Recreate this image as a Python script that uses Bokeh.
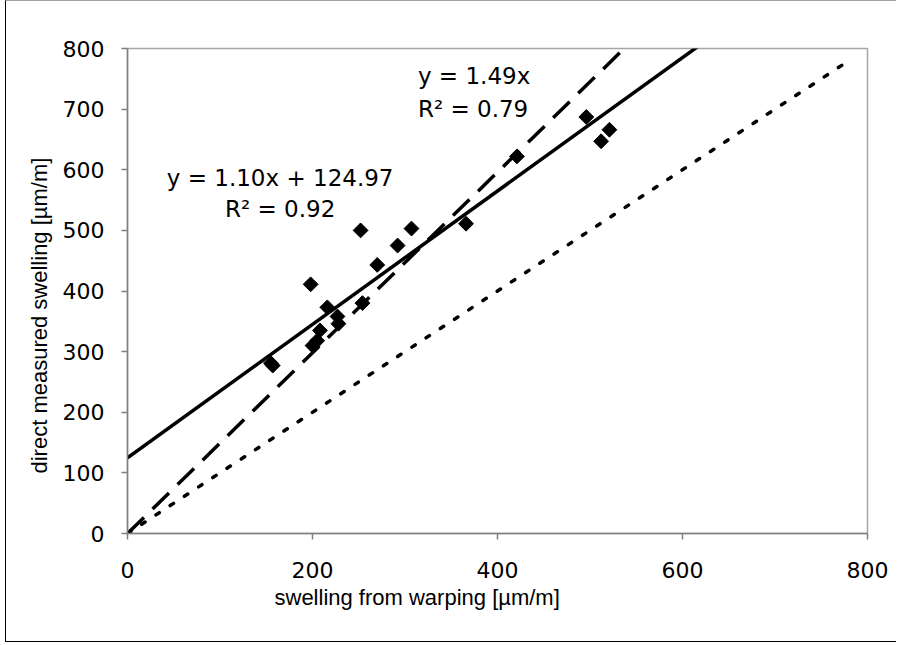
import math
from bokeh.plotting import figure
from bokeh.models import Range1d, FixedTicker, Label, Title
from bokeh.embed import file_html
from bokeh.resources import INLINE

# Measured specimens: swelling derived from warping vs. directly measured swelling
warp_swelling = [155, 157, 198, 200, 205, 208, 216, 227, 228, 252, 254, 270,
                 292, 307, 366, 421, 496, 512, 521]
direct_swelling = [281, 277, 411, 310, 318, 335, 373, 358, 346, 500, 380, 443,
                   475, 503, 511, 622, 687, 647, 666]

# Linear regression with intercept
fit_slope = 1.10
fit_intercept = 124.97
fit_r2 = 0.92

# Regression forced through the origin
origin_slope = 1.49
origin_r2 = 0.79

# 1:1 reference line
ref_x = [0, 780]
ref_y = [0, 780]

x_ticks = [0, 200, 400, 600, 800]
y_ticks = [0, 100, 200, 300, 400, 500, 600, 700, 800]

x_title = "swelling from warping [µm/m]"
y_title = "direct measured swelling [µm/m]"

W, H = 891, 642

p = figure(width=W, height=H, output_backend="svg", toolbar_location=None,
           x_range=Range1d(0, 800), y_range=Range1d(0, 800),
           min_border_left=121, min_border_right=30,
           min_border_top=47, min_border_bottom=110)

# Chart area border around the whole figure
p.styles = {"margin-left": "5px",
            "border-left": "1.5px solid black",
            "border-top": "1px solid #a0a0a0",
            "border-bottom": "1.5px solid black"}

p.background_fill_color = "white"
p.border_fill_color = "white"
p.xgrid.visible = False
p.ygrid.visible = False
p.outline_line_color = "#a6a6a6"
p.outline_line_width = 1.5

for ax, ticks in ((p.xaxis, x_ticks), (p.yaxis, y_ticks)):
    ax.ticker = FixedTicker(ticks=ticks)
    ax.minor_tick_line_color = None
    ax.axis_line_color = "#808080"
    ax.axis_line_width = 1.5
    ax.major_tick_line_color = "#808080"
    ax.major_tick_line_width = 1.5
    ax.major_tick_out = 6
    ax.major_tick_in = 0
    ax.major_label_text_font = "DejaVu Sans"
    ax.major_label_text_font_size = "22px"
    ax.major_label_text_color = "black"

p.xaxis.major_label_standoff = 22
p.yaxis.major_label_standoff = 17

# Axis titles, placed as side titles so they can sit off-centre
title_style = dict(text_font="Liberation Sans", text_font_size="22px",
                   text_font_style="normal", text_color="black", align="left")
p.add_layout(Title(text=x_title, offset=147, standoff=4, **title_style), "below")
p.add_layout(Title(text=y_title, offset=60, standoff=15, **title_style), "left")

# 1:1 reference (dotted)
p.line(ref_x, ref_y, line_color="black", line_width=3.5,
       line_dash="4 13", line_cap="round")

# Regression through origin (dashed)
line_x = [0, 800]
p.line(line_x, [origin_slope * v for v in line_x], line_color="black",
       line_width=3.5, line_dash="23 12")

# Regression with intercept (solid)
p.line(line_x, [fit_slope * v + fit_intercept for v in line_x],
       line_color="black", line_width=3.5)

# Data points as diamonds
p.scatter(warp_swelling, direct_swelling, marker="square", angle=math.pi / 4,
          size=10.5, fill_color="black", line_color="black")

# Equations
font = "DejaVu Sans"
eq_style = dict(text_font=font, text_font_size="23px", text_color="black",
                text_baseline="middle")
p.add_layout(Label(x=165, y=587, text=f"y = {fit_slope:.2f}x + {fit_intercept:.2f}",
                   text_align="center", **eq_style))
p.add_layout(Label(x=165, y=536, text=f"R² = {fit_r2:.2f}",
                   text_align="center", **eq_style))
p.add_layout(Label(x=314, y=755, text=f"y = {origin_slope:.2f}x",
                   text_align="left", **eq_style))
p.add_layout(Label(x=314, y=701, text=f"R² = {origin_r2:.2f}",
                   text_align="left", **eq_style))

open("out.html", "w").write(file_html(p, INLINE))
